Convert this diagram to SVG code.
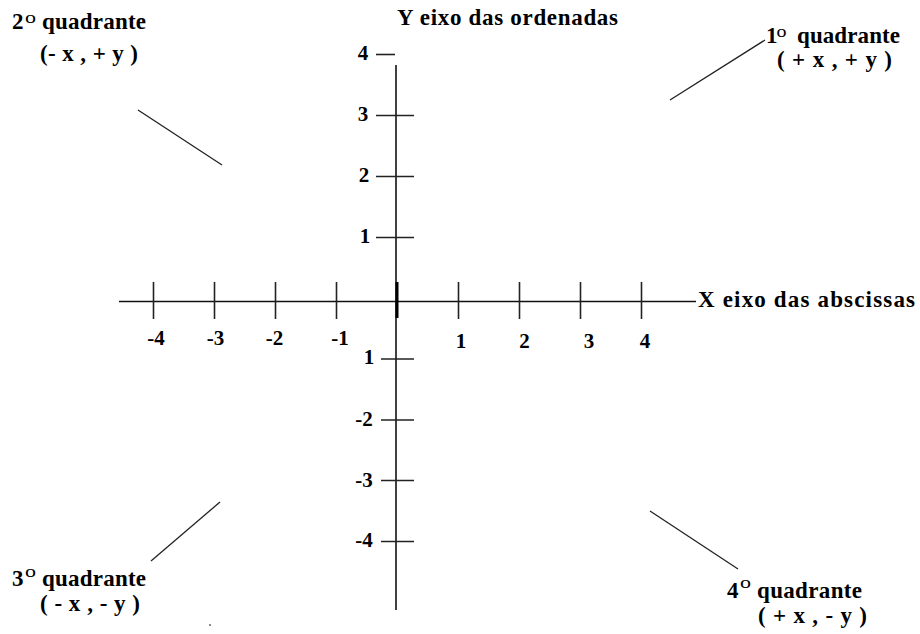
<svg xmlns="http://www.w3.org/2000/svg" width="920" height="634" viewBox="0 0 920 634">
<style>
.t{font-family:'Liberation Serif','DejaVu Serif',serif;font-weight:bold;fill:#000}
.lb{font-size:23px}
.n{font-size:21px;text-anchor:middle}
.sup{font-family:'Liberation Serif','DejaVu Serif',serif;font-weight:normal;font-size:17px;fill:#000}
.ax{stroke:#111;stroke-width:1.6;fill:none}
.tk{stroke:#222;stroke-width:1.6;fill:none}
.ld{stroke:#222;stroke-width:1.3;fill:none}
</style>
<rect width="920" height="634" fill="#fff"/>
<g id="connectors">
<line class="ax" x1="119" y1="301.5" x2="696" y2="301.5"/>
<line class="ax" x1="396" y1="65" x2="396" y2="610"/>
<line x1="397" y1="282" x2="397" y2="318" stroke="#000" stroke-width="3"/>
<g class="tk">
<line x1="153.5" y1="282" x2="153.5" y2="319"/>
<line x1="214.5" y1="282" x2="214.5" y2="319"/>
<line x1="275.5" y1="282" x2="275.5" y2="319"/>
<line x1="336.5" y1="282" x2="336.5" y2="319"/>
<line x1="458.5" y1="282" x2="458.5" y2="319"/>
<line x1="519.5" y1="282" x2="519.5" y2="319"/>
<line x1="580.5" y1="282" x2="580.5" y2="319"/>
<line x1="641.5" y1="282" x2="641.5" y2="319"/>
<line x1="376" y1="54.5" x2="395" y2="54.5"/>
<line x1="376" y1="115.5" x2="414" y2="115.5"/>
<line x1="376" y1="176.5" x2="414" y2="176.5"/>
<line x1="376" y1="237.5" x2="414" y2="237.5"/>
<line x1="381" y1="359" x2="414" y2="359"/>
<line x1="381" y1="420" x2="414" y2="420"/>
<line x1="381" y1="480.5" x2="414" y2="480.5"/>
<line x1="381" y1="541.5" x2="414" y2="541.5"/>
</g>
<line class="ld" x1="670" y1="100" x2="765" y2="40"/>
<line class="ld" x1="138" y1="110" x2="222" y2="165"/>
<line class="ld" x1="151" y1="561" x2="220" y2="502"/>
<line class="ld" x1="650" y1="511" x2="738" y2="569"/>
<circle cx="210" cy="625" r="0.9" fill="#555"/>
</g>
<g id="x-labels" class="t n">
<text x="156" y="345">-4</text>
<text x="215.5" y="345">-3</text>
<text x="274.5" y="345">-2</text>
<text x="340" y="345">-1</text>
<text x="461" y="348">1</text>
<text x="524.5" y="348">2</text>
<text x="589" y="348">3</text>
<text x="645" y="348">4</text>
</g>
<g id="y-labels" class="t n">
<text x="363" y="60">4</text>
<text x="363" y="121">3</text>
<text x="364" y="182">2</text>
<text x="365" y="243">1</text>
<text x="369" y="364">1</text>
<text x="364" y="426">-2</text>
<text x="364" y="487">-3</text>
<text x="364" y="547">-4</text>
</g>
<g id="y-axis-title">
<text class="t lb" x="397" y="25" textLength="221" lengthAdjust="spacing">Y eixo das ordenadas</text>
</g>
<g id="x-axis-title">
<text class="t lb" x="698" y="307" textLength="217" lengthAdjust="spacing">X eixo das abscissas</text>
</g>
<g id="q2">
<text class="t lb" x="12" y="29">2</text>
<text class="sup" x="25" y="23" textLength="11" lengthAdjust="spacingAndGlyphs">o</text>
<text class="t lb" x="42" y="29" textLength="104" lengthAdjust="spacing">quadrante</text>
<text class="t lb" x="40" y="61" textLength="98" lengthAdjust="spacing">(- x , + y )</text>
</g>
<g id="q1">
<text class="t lb" x="766" y="43">1</text>
<text class="sup" x="776.5" y="37" textLength="10" lengthAdjust="spacingAndGlyphs">o</text>
<text class="t lb" x="797" y="43" textLength="103" lengthAdjust="spacing">quadrante</text>
<text class="t lb" x="777" y="67" textLength="115" lengthAdjust="spacing">( + x , + y )</text>
</g>
<g id="q3">
<text class="t lb" x="12" y="586">3</text>
<text class="sup" x="25" y="577" textLength="11" lengthAdjust="spacingAndGlyphs">o</text>
<text class="t lb" x="42" y="586" textLength="104" lengthAdjust="spacing">quadrante</text>
<text class="t lb" x="40" y="611" textLength="100" lengthAdjust="spacing">( - x , - y )</text>
</g>
<g id="q4">
<text class="t lb" x="727" y="598">4</text>
<text class="sup" x="740" y="588" textLength="11" lengthAdjust="spacingAndGlyphs">o</text>
<text class="t lb" x="757" y="598" textLength="105" lengthAdjust="spacing">quadrante</text>
<text class="t lb" x="758" y="623" textLength="109" lengthAdjust="spacing">( + x , - y )</text>
</g>
</svg>
